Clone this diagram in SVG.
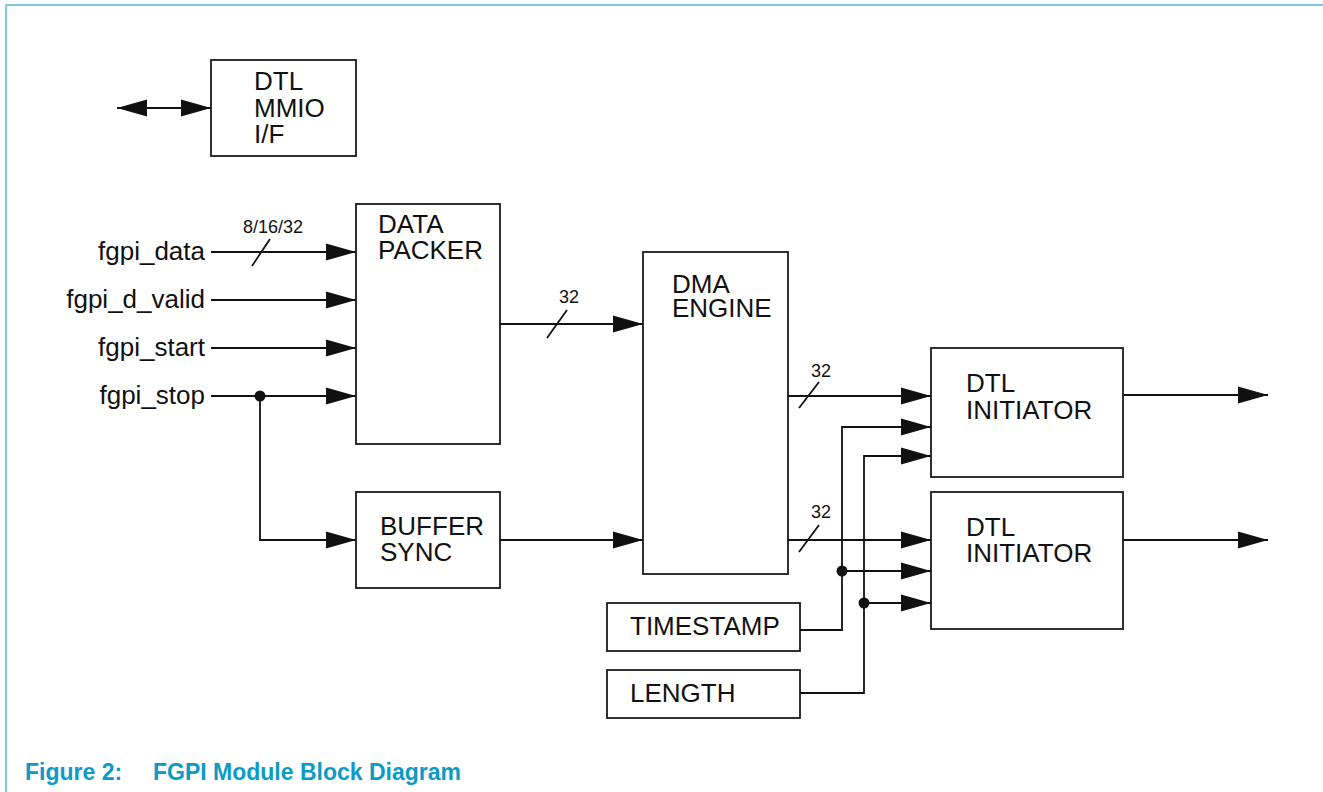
<svg xmlns="http://www.w3.org/2000/svg" width="1323" height="792" viewBox="0 0 1323 792">
<style>
.box{fill:#fff;stroke:#1a1a1a;stroke-width:1.8}
.t{font-family:"Liberation Sans",Arial,sans-serif;font-size:26px;fill:#111}
.s{font-family:"Liberation Sans",Arial,sans-serif;font-size:18px;fill:#111}
.w{fill:none;stroke:#111;stroke-width:1.8}
.a{fill:none;stroke:#111;stroke-width:1.8;marker-end:url(#ah)}
.cap{font-family:"Liberation Sans",Arial,sans-serif;font-size:23px;font-weight:bold;fill:#0b9bc6}
</style>
<defs>
<marker id="ah" markerUnits="userSpaceOnUse" markerWidth="30" markerHeight="18" refX="30" refY="9" orient="auto-start-reverse" viewBox="0 0 30 18">
<path d="M0,0.5 L30,9 L0,17.5 z" fill="#111"/>
</marker>
</defs>
<rect width="1323" height="792" fill="#fff"/>
<g id="frame">
<line x1="6" y1="5" x2="1323" y2="5" stroke="#7dcbe0" stroke-width="2"/>
<line x1="6" y1="4" x2="6" y2="792" stroke="#7dcbe0" stroke-width="2"/>
</g>

<g id="connectors">
<line x1="117" y1="108" x2="211" y2="108" class="w" marker-start="url(#ah)" marker-end="url(#ah)"/>
<line x1="211" y1="252" x2="356" y2="252" class="a"/>
<line x1="252" y1="266" x2="270" y2="239" class="w" stroke-width="1.5"/>
<line x1="211" y1="300" x2="356" y2="300" class="a"/>
<line x1="211" y1="348" x2="356" y2="348" class="a"/>
<line x1="211" y1="396" x2="356" y2="396" class="a"/>
<polyline points="260,396 260,540 356,540" class="a"/>
<circle cx="260" cy="396" r="5.5" fill="#111"/>
<line x1="500" y1="324" x2="643" y2="324" class="a"/>
<line x1="547" y1="338" x2="567" y2="310" class="w" stroke-width="1.5"/>
<line x1="500" y1="540" x2="643" y2="540" class="a"/>
<line x1="788" y1="396" x2="931" y2="396" class="a"/>
<line x1="799" y1="408" x2="819" y2="382" class="w" stroke-width="1.5"/>
<line x1="788" y1="540" x2="931" y2="540" class="a"/>
<line x1="799" y1="552" x2="819" y2="525" class="w" stroke-width="1.5"/>
<polyline points="800,630 842,630 842,427 931,427" class="a"/>
<line x1="842" y1="571" x2="931" y2="571" class="a"/>
<circle cx="842" cy="571" r="5.5" fill="#111"/>
<polyline points="800,693 864,693 864,456 931,456" class="a"/>
<line x1="864" y1="603" x2="931" y2="603" class="a"/>
<circle cx="864" cy="603" r="5.5" fill="#111"/>
<line x1="1123" y1="395" x2="1268" y2="395" class="a"/>
<line x1="1123" y1="540" x2="1268" y2="540" class="a"/>
<text x="243" y="233" class="s">8/16/32</text>
<text x="559" y="303" class="s">32</text>
<text x="811" y="377" class="s">32</text>
<text x="811" y="518" class="s">32</text>
</g>

<g id="signals">
<text x="205" y="260" class="t" text-anchor="end">fgpi_data</text>
<text x="205" y="308" class="t" text-anchor="end">fgpi_d_valid</text>
<text x="205" y="356" class="t" text-anchor="end">fgpi_start</text>
<text x="205" y="404" class="t" text-anchor="end">fgpi_stop</text>
</g>

<g id="mmio">
<rect x="211" y="60" width="145" height="96" class="box"/>
<text class="t"><tspan x="254" y="90">DTL</tspan><tspan x="254" y="116.5">MMIO</tspan><tspan x="254" y="143">I/F</tspan></text>
</g>

<g id="packer">
<rect x="356" y="204" width="144" height="240" class="box"/>
<text class="t"><tspan x="378" y="233">DATA</tspan><tspan x="378" y="259">PACKER</tspan></text>
</g>

<g id="bufsync">
<rect x="356" y="492" width="144" height="96" class="box"/>
<text class="t"><tspan x="380" y="535">BUFFER</tspan><tspan x="380" y="561">SYNC</tspan></text>
</g>

<g id="dma">
<rect x="643" y="252" width="145" height="322" class="box"/>
<text class="t"><tspan x="672" y="293">DMA</tspan><tspan x="672" y="317">ENGINE</tspan></text>
</g>

<g id="init1">
<rect x="931" y="348" width="192" height="129" class="box"/>
<text class="t"><tspan x="966" y="392">DTL</tspan><tspan x="966" y="419">INITIATOR</tspan></text>
</g>

<g id="init2">
<rect x="931" y="492" width="192" height="137" class="box"/>
<text class="t"><tspan x="966" y="536">DTL</tspan><tspan x="966" y="562">INITIATOR</tspan></text>
</g>

<g id="timestamp">
<rect x="607" y="603" width="193" height="48" class="box"/>
<text x="630" y="635" class="t">TIMESTAMP</text>
</g>

<g id="length">
<rect x="607" y="670" width="193" height="48" class="box"/>
<text x="630" y="702" class="t">LENGTH</text>
</g>

<g id="caption">
<text x="25" y="780" class="cap">Figure 2:</text>
<text x="153" y="780" class="cap">FGPI Module Block Diagram</text>
</g>
</svg>
